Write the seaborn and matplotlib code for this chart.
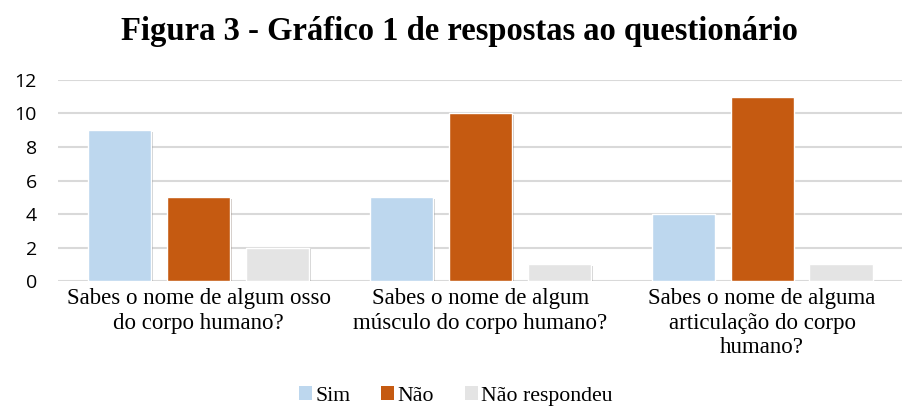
import matplotlib
matplotlib.use("Agg")
import matplotlib.pyplot as plt
import matplotlib.patheffects as pe
import seaborn as sns
import pandas as pd
from matplotlib.patches import Patch

categories = ["Sabes o nome de algum osso\ndo corpo humano?",
              "Sabes o nome de algum\nmúsculo do corpo humano?",
              "Sabes o nome de alguma\narticulação do corpo\nhumano?"]
series = ["Sim", "Não", "Não respondeu"]
sim = [9, 5, 4]
nao = [5, 10, 11]
nao_resp = [2, 1, 1]
colors = ["#BDD7EE", "#C55A11", "#E4E4E4"]

rows = []
for s, vals in zip(series, [sim, nao, nao_resp]):
    for c, v in zip(categories, vals):
        rows.append({"cat": c, "serie": s, "val": v})
df = pd.DataFrame(rows)

sns.set_theme(style="white")
fig = plt.figure(figsize=(9.03, 4.08), dpi=100)
ax = fig.add_axes([0.064, 0.311, 0.936, 0.493])
sns.barplot(data=df, x="cat", y="val", hue="serie", hue_order=series,
            palette=colors, width=0.84, gap=0.2, ax=ax, legend=False,
            saturation=1)
for p in ax.patches:
    p.set_path_effects([pe.SimplePatchShadow(offset=(1.2, -1.2), alpha=0.25),
                        pe.Normal()])
ax.set_ylim(0, 12)
ax.set_yticks(range(0, 13, 2))
ax.yaxis.grid(True, color="#D9D9D9", linewidth=1.5)
ax.set_axisbelow(True)
for sp in ax.spines.values():
    sp.set_visible(False)
ax.set_xlabel("")
ax.set_ylabel("")
ax.tick_params(axis="y", labelsize=14, length=0, pad=15)
ax.tick_params(axis="x", length=0, pad=5)
for lab in ax.get_yticklabels():
    lab.set_family(["Open Sans", "DejaVu Sans"])
    lab.set_color("#000000")
for lab in ax.get_xticklabels():
    lab.set_family("Liberation Serif")
    lab.set_fontsize(16.5)
    lab.set_linespacing(1.22)
    lab.set_color("#000000")

fig.text(0.509, 0.922, "Figura 3 - Gráfico 1 de respostas ao questionário",
         ha="center", va="center", family="Liberation Serif",
         fontweight="bold", fontsize=23.5, color="#000000")

handles = [Patch(facecolor=c, edgecolor="none", label=s) for s, c in zip(series, colors)]
fig.legend(handles=handles, loc="center", bbox_to_anchor=(0.505, 0.03), ncol=3,
           frameon=False, prop={"family": "Liberation Serif", "size": 15.7},
           handlelength=0.6, handleheight=0.6, handletextpad=0.15, columnspacing=1.4,
           labelcolor="#000000")

fig.savefig("out.png", dpi=100)
